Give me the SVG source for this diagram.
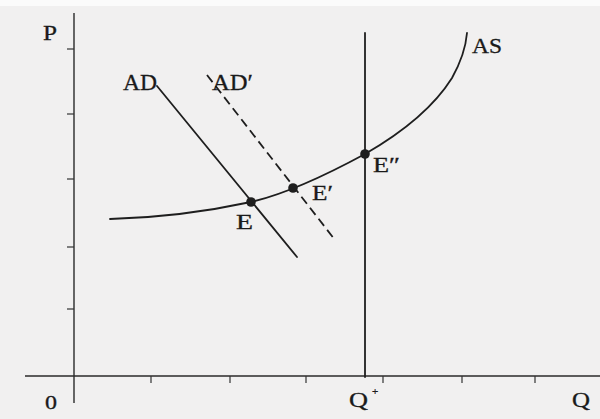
<svg xmlns="http://www.w3.org/2000/svg" width="600" height="419" viewBox="0 0 600 419">
  <style>
    .ax { stroke: #2a2a2a; stroke-width: 1.4; fill: none; }
    .tk { stroke: #333; stroke-width: 1.2; fill: none; }
    .cv { stroke: #1e1e1e; stroke-width: 1.8; fill: none; stroke-linecap: round; }
    .dash { stroke-dasharray: 9 5; stroke-linecap: butt; }
    .pt { fill: #1e1e1e; }
    .lb { font-family: "Liberation Serif", "DejaVu Serif", serif; fill: #1a1a1a; stroke: #1a1a1a; stroke-width: 0.3; }
  </style>
  <rect x="0" y="0" width="600" height="419" fill="#f1f0f0"/>
  <rect x="0" y="0" width="600" height="6" fill="#fbfbfb"/>

  <g id="axes">
    <line class="ax" x1="74" y1="13" x2="74" y2="403"/>
    <line class="ax" x1="25" y1="376" x2="600" y2="376"/>
    <g id="y-ticks">
      <line class="tk" x1="67" y1="49" x2="74" y2="49"/>
      <line class="tk" x1="67" y1="114" x2="74" y2="114"/>
      <line class="tk" x1="67" y1="179" x2="74" y2="179"/>
      <line class="tk" x1="67" y1="247" x2="74" y2="247"/>
      <line class="tk" x1="67" y1="309" x2="74" y2="309"/>
    </g>
    <g id="x-ticks">
      <line class="tk" x1="151" y1="376" x2="151" y2="383"/>
      <line class="tk" x1="230" y1="376" x2="230" y2="383"/>
      <line class="tk" x1="306" y1="376" x2="306" y2="383"/>
      <line class="tk" x1="383" y1="376" x2="383" y2="383"/>
      <line class="tk" x1="462" y1="376" x2="462" y2="383"/>
      <line class="tk" x1="535" y1="376" x2="535" y2="383"/>
    </g>
    <text class="lb" x="43" y="40" font-size="20" textLength="14" lengthAdjust="spacingAndGlyphs">P</text>
    <text class="lb" x="45" y="409" font-size="19" textLength="12" lengthAdjust="spacingAndGlyphs">0</text>
    <text class="lb" x="349" y="407" font-size="20" textLength="19" lengthAdjust="spacingAndGlyphs">Q</text>
    <text class="lb" x="372" y="395" font-size="11">+</text>
    <text class="lb" x="572" y="407" font-size="20" textLength="18" lengthAdjust="spacingAndGlyphs">Q</text>
  </g>

  <g id="connectors">
    <path id="curve-AS" class="cv" d="M110,219 C150,218 200,213 251,202 C290,193 330,173 365,154 C405,131 435,105 452,78 C462,60 466,45 467,33"/>
    <line id="curve-AD" class="cv" x1="157" y1="86" x2="297" y2="257"/>
    <line id="curve-AD2" class="cv dash" x1="207" y1="75" x2="335" y2="240"/>
    <line id="line-Qstar" class="cv" x1="365" y1="33" x2="365" y2="377"/>
  </g>

  <g id="node-AD">
    <text class="lb" x="123" y="90" font-size="24" textLength="34" lengthAdjust="spacingAndGlyphs">AD</text>
  </g>
  <g id="node-AD-prime">
    <text class="lb" x="212" y="90" font-size="24" textLength="41" lengthAdjust="spacingAndGlyphs">AD′</text>
  </g>
  <g id="node-AS">
    <text class="lb" x="472" y="53" font-size="22" textLength="30" lengthAdjust="spacingAndGlyphs">AS</text>
  </g>
  <g id="node-E">
    <circle class="pt" cx="251" cy="202" r="4.8"/>
    <text class="lb" x="236" y="229" font-size="20" textLength="17" lengthAdjust="spacingAndGlyphs">E</text>
  </g>
  <g id="node-E-prime">
    <circle class="pt" cx="293" cy="188" r="4.8"/>
    <text class="lb" x="312" y="200" font-size="20" textLength="21" lengthAdjust="spacingAndGlyphs">E′</text>
  </g>
  <g id="node-E-dprime">
    <circle class="pt" cx="365" cy="154" r="4.8"/>
    <text class="lb" x="373" y="172" font-size="20" textLength="27" lengthAdjust="spacingAndGlyphs">E″</text>
  </g>
</svg>
